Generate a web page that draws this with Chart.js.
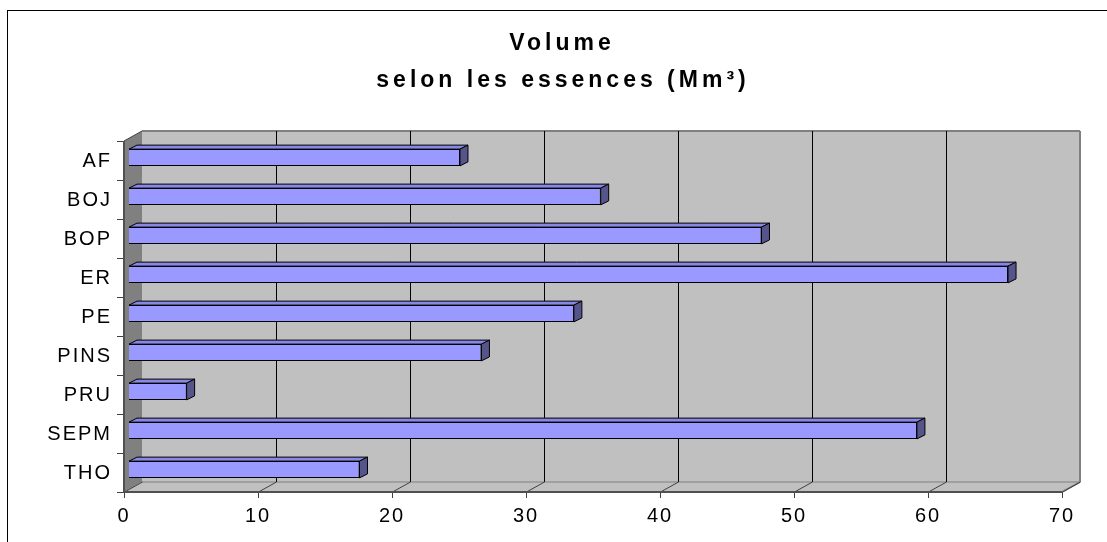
<!DOCTYPE html>
<html>
<head>
<meta charset="utf-8">
<script src="https://cdn.jsdelivr.net/npm/chart.js@4.4.0/dist/chart.umd.min.js"></script>
<style>
  html, body { margin: 0; padding: 0; background: #fff; }
  #wrap { width: 1107px; height: 542px; }
</style>
</head>
<body>
<div id="wrap"><canvas id="chart" width="1107" height="542"></canvas></div>
<script>
const categories = ["AF", "BOJ", "BOP", "ER", "PE", "PINS", "PRU", "SEPM", "THO"];
const volumes = [24.7, 35.2, 47.2, 65.6, 33.2, 26.3, 4.3, 58.8, 17.2];
const tickStep = 10;
const axisMax = 70;
const titleLines = ["Volume", "selon les essences (Mm³)"];

// offsets of the 3-D box faces, relative to the plane the bars sit in
const FRONT = { dx: -5, dy: 3 };
const BACK = { dx: 13, dy: -7 };
const BAR_DEPTH = { dx: 8, dy: -4 };

const FONT = '"Liberation Sans", Arial, sans-serif';

function poly(ctx, pts, fill, stroke) {
  ctx.beginPath();
  ctx.moveTo(pts[0][0], pts[0][1]);
  for (let i = 1; i < pts.length; i++) ctx.lineTo(pts[i][0], pts[i][1]);
  ctx.closePath();
  if (fill) { ctx.fillStyle = fill; ctx.fill(); }
  if (stroke) { ctx.strokeStyle = stroke; ctx.stroke(); }
}

function line(ctx, x1, y1, x2, y2) {
  ctx.beginPath();
  ctx.moveTo(x1, y1);
  ctx.lineTo(x2, y2);
  ctx.stroke();
}

const box3d = {
  id: "box3d",
  beforeDraw(chart) {
    const ctx = chart.ctx;
    ctx.letterSpacing = "2px";
    // outer frame of the chart object
    ctx.save();
    ctx.strokeStyle = "#000";
    ctx.lineWidth = 1;
    ctx.strokeRect(7.5, 10.5, 1300, 700);
    ctx.restore();
  },
  beforeDatasetsDraw(chart) {
    const { ctx, chartArea: a, scales: { x } } = chart;
    const fl = a.left + FRONT.dx, fr = a.right + FRONT.dx;
    const ft = a.top + FRONT.dy, fb = a.bottom + FRONT.dy;
    const bl = a.left + BACK.dx, br = a.right + BACK.dx;
    const bt = a.top + BACK.dy, bb = a.bottom + BACK.dy;

    ctx.save();
    ctx.lineWidth = 1;

    // walls and floor
    ctx.fillStyle = "#C0C0C0";
    ctx.fillRect(bl, bt, br - bl, bb - bt);
    poly(ctx, [[fl, fb], [bl, bb], [br, bb], [fr, fb]], "#C0C0C0");
    poly(ctx, [[fl, ft], [bl, bt], [bl, bb], [fl, fb]], "#808080");

    // back wall outline
    ctx.strokeStyle = "#808080";
    ctx.lineWidth = 2;
    line(ctx, bl, bt, br, bt);
    line(ctx, br, bt, br, bb);
    line(ctx, br, bb, fr, fb);
    ctx.lineWidth = 1;
    line(ctx, bl, bb, br, bb);

    // vertical gridlines on back wall and tick lines across the floor
    x.ticks.forEach(t => {
      const off = x.getPixelForValue(t.value) - a.left;
      const gx = Math.round(bl + off) + 0.5;
      if (t.value > 0 && t.value < axisMax) {
        ctx.strokeStyle = "#000";
        line(ctx, gx, bt, gx, bb);
      }
      const fx = Math.round(fl + off) + 0.5;
      ctx.strokeStyle = "#404040";
      line(ctx, fx, fb, fx + (BACK.dx - FRONT.dx), fb + (BACK.dy - FRONT.dy));
      line(ctx, fx, fb, fx, fb + 6);
    });

    // category ticks on the front left edge
    ctx.strokeStyle = "#404040";
    const band = (a.bottom - a.top) / categories.length;
    for (let k = 0; k <= categories.length; k++) {
      const ty = Math.round(ft + k * band) + 0.5;
      line(ctx, fl - 7, ty, fl, ty);
    }
    line(ctx, fl, ft, bl, bt);

    // front axis lines
    ctx.strokeStyle = "#505050";
    ctx.lineWidth = 2;
    line(ctx, fl, ft, fl, fb + 1);
    line(ctx, fl, fb, fr, fb);
    ctx.restore();
  },
  afterDatasetsDraw(chart) {
    const ctx = chart.ctx;
    const meta = chart.getDatasetMeta(0);
    ctx.save();
    ctx.lineWidth = 1;
    ctx.lineJoin = "round";
    meta.data.forEach(bar => {
      const { x: ex, y: ey, base, height } = bar.getProps(["x", "y", "base", "height"], true);
      const top = ey - height / 2, bot = ey + height / 2;
      const { dx, dy } = BAR_DEPTH;
      poly(ctx, [[base, top], [ex, top], [ex + dx, top + dy], [base + dx, top + dy]], "#8787E6", "#000");
      poly(ctx, [[ex, top], [ex + dx, top + dy], [ex + dx, bot + dy], [ex, bot]], "#55558C", "#000");
    });
    ctx.restore();
  },
  afterDraw(chart) {
    const ctx = chart.ctx;
    ctx.save();
    ctx.letterSpacing = "4px";
    ctx.font = "bold 23px " + FONT;
    ctx.fillStyle = "#000";
    ctx.textAlign = "center";
    ctx.textBaseline = "middle";
    ctx.fillText(titleLines[0], 562, 44);
    ctx.fillText(titleLines[1], 563, 81);
    ctx.restore();
  }
};

new Chart(document.getElementById("chart"), {
  type: "bar",
  data: {
    labels: categories,
    datasets: [{
      data: volumes,
      backgroundColor: "#9999FF",
      borderColor: "#000",
      borderWidth: 1,
      barPercentage: 0.43,
      categoryPercentage: 1
    }]
  },
  options: {
    indexAxis: "y",
    responsive: false,
    animation: false,
    layout: { padding: { top: 138, right: 40, bottom: 0, left: 0 } },
    plugins: {
      legend: { display: false },
      title: { display: false },
      tooltip: { enabled: false }
    },
    scales: {
      x: {
        min: 0,
        max: axisMax,
        grid: { display: false, drawTicks: false },
        border: { display: false },
        ticks: { stepSize: tickStep, labelOffset: -5, padding: 15, color: "#000", font: { family: FONT, size: 20 } },
        afterFit(s) { s.height = 53; }
      },
      y: {
        grid: { display: false, drawTicks: false },
        border: { display: false },
        ticks: { labelOffset: 4, padding: 17, color: "#000", font: { family: FONT, size: 20 } },
        afterFit(s) { s.width = 129; }
      }
    }
  },
  plugins: [box3d]
});
</script>
</body>
</html>
